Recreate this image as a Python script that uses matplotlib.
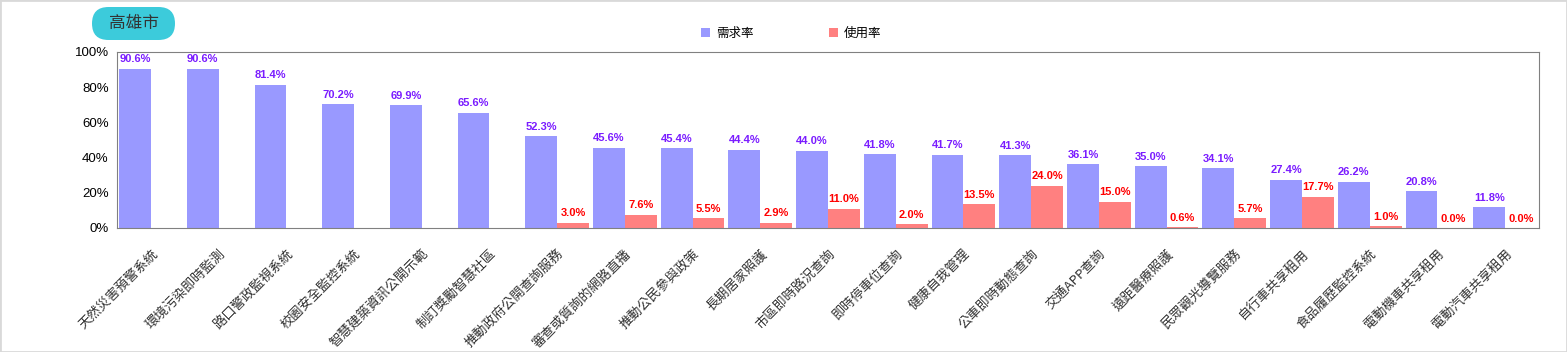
import numpy as np
import matplotlib.pyplot as plt
from matplotlib.patches import Rectangle, FancyBboxPatch

plt.rcParams['font.family'] = ['Noto Sans CJK TC', 'DejaVu Sans']

categories = ['天然災害預警系統', '環境污染即時監測', '路口警政監視系統', '校園安全監控系統',
              '智慧建築資訊公開示範', '制訂獎勵智慧社區', '推動政府公開查詢服務',
              '審查或質詢的網路直播', '推動公民參與政策', '長期居家照護', '市區即時路況查詢',
              '即時停車位查詢', '健康自我管理', '公車即時動態查詢', '交通APP查詢',
              '遠距醫療照護', '民眾觀光導覽服務', '自行車共享租用', '食品履歷監控系統',
              '電動機車共享租用', '電動汽車共享租用']
demand = [90.6, 90.6, 81.4, 70.2, 69.9, 65.6, 52.3, 45.6, 45.4, 44.4, 44.0,
          41.8, 41.7, 41.3, 36.1, 35.0, 34.1, 27.4, 26.2, 20.8, 11.8]
usage = [None, None, None, None, None, None, 3.0, 7.6, 5.5, 2.9, 11.0,
         2.0, 13.5, 24.0, 15.0, 0.6, 5.7, 17.7, 1.0, 0.0, 0.0]
yticks = [0, 20, 40, 60, 80, 100]

fig = plt.figure(figsize=(15.67, 3.52), dpi=100)
ax = fig.add_axes([0.0747, 0.3523, 0.9074, 0.5])

x = np.arange(len(categories))
w = 0.47
ax.bar(x - w/2, demand, w, color='#9999ff', label='需求率')
ux = [i for i, u in enumerate(usage) if u is not None]
uv = [usage[i] for i in ux]
ax.bar(np.array(ux) + w/2, uv, w, color='#ff8080', label='使用率')

for i, v in enumerate(demand):
    ax.text(i - w/2, v + 2.5, f'{v:.1f}%', ha='center', va='bottom', color='#7a1cff',
            fontsize=8, fontweight='bold', family='Liberation Sans')
for i, v in zip(ux, uv):
    ax.text(i + w/2, v + 2.5, f'{v:.1f}%', ha='center', va='bottom', color='#ff0000',
            fontsize=8, fontweight='bold', family='Liberation Sans')

ax.set_xlim(-0.5, len(categories) - 0.5)
ax.set_ylim(0, 100)
ax.set_yticks(yticks)
ax.set_yticklabels([f'{t}%' for t in yticks], family='Liberation Sans', fontsize=9.5)
ax.set_xticks(x)
ax.set_xticklabels(categories, rotation=45, ha='right', rotation_mode='anchor', fontsize=9.5, color='#333333')
ax.tick_params(axis='x', length=0, pad=14)
ax.tick_params(axis='y', length=0, pad=6)
for s in ax.spines.values():
    s.set_color('#808080')

fig.legend(loc='center', bbox_to_anchor=(0.505, 0.906), ncol=2, frameon=False, fontsize=9,
           handlelength=0.7, handleheight=0.7, columnspacing=6, handletextpad=0.5)

# title badge (inches)
badge = FancyBboxPatch((0.92, 3.12), 0.83, 0.33, boxstyle='round,pad=0,rounding_size=0.165',
                       transform=fig.dpi_scale_trans, fc='#3ccbdb', ec='none')
fig.patches.append(badge)
fig.text(1.335, 3.285, '高雄市', fontsize=12, color='#333333', ha='center', va='center',
         transform=fig.dpi_scale_trans)

fig.patches.append(Rectangle((0, 0), 1, 1, transform=fig.transFigure, fill=False,
                             ec='#d9d9d9', lw=2))

fig.savefig('out.png', dpi=100)
